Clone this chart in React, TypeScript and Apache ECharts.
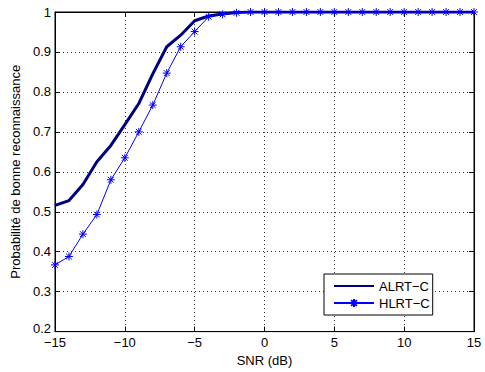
import React, { useEffect, useRef } from "react";
import * as echarts from "echarts";

const snr = [-15, -14, -13, -12, -11, -10, -9, -8, -7, -6, -5, -4, -3, -2, -1, 0, 1, 2, 3, 4, 5, 6, 7, 8, 9, 10, 11, 12, 13, 14, 15];
const alrt = [0.516, 0.528, 0.568, 0.625, 0.666, 0.718, 0.771, 0.845, 0.913, 0.942, 0.978, 0.99, 0.995, 0.999, 1, 1, 1, 1, 1, 1, 1, 1, 1, 1, 1, 1, 1, 1, 1, 1, 1];
const hlrt = [0.367, 0.388, 0.444, 0.493, 0.58, 0.635, 0.7, 0.767, 0.847, 0.913, 0.951, 0.988, 0.994, 0.998, 1, 1, 1, 1, 1, 1, 1, 1, 1, 1, 1, 1, 1, 1, 1, 1, 1];
const seriesNames = ["ALRT\u2212C", "HLRT\u2212C"];
const xLabel = "SNR (dB)";
const yLabel = "Probabilit\u00e9 de bonne reconnaissance";

const font = "'Liberation Sans', Arial, Helvetica, sans-serif";
const star = "path://M0,-5L0,5M-5,0L5,0M-3.6,-3.6L3.6,3.6M-3.6,3.6L3.6,-3.6";
const FS = 13;

export default function App() {
  const ref = useRef<HTMLDivElement>(null);
  useEffect(() => {
    if (!ref.current) return;
    const chart = echarts.init(ref.current, undefined, { renderer: "svg" });
    const minus = (v: number) => String(v).replace("-", "\u2212");
    const grid = { color: "#000", type: [1, 3] as any, width: 1, opacity: 0.8 };
    const sideAxis = {
      axisLine: { show: true, onZero: false, lineStyle: { color: "#000", width: 1 } },
      axisTick: { show: true, inside: true, length: 5, lineStyle: { color: "#000" } },
      axisLabel: { show: false },
      splitLine: { show: false },
    };
    chart.setOption({
      animation: false,
      backgroundColor: "#fff",
      textStyle: { fontFamily: font },
      grid: { left: 55, right: 11, top: 12, bottom: 33, show: true, borderColor: "#000", borderWidth: 1 },
      legend: {
        orient: "vertical",
        left: 324,
        top: 274,
        padding: [5, 3, 5, 9],
        itemGap: 3,
        itemWidth: 40,
        itemHeight: 10,
        backgroundColor: "#fff",
        borderColor: "#000",
        borderWidth: 1,
        textStyle: { fontFamily: font, fontSize: FS, lineHeight: 14, color: "#000" },
        data: [
          { name: seriesNames[0], itemStyle: { opacity: 0 } },
          { name: seriesNames[1] },
        ],
      },
      xAxis: [
        {
          type: "value",
          min: -15,
          max: 15,
          interval: 5,
          name: xLabel,
          nameLocation: "middle",
          nameGap: 15,
          nameTextStyle: { fontFamily: font, fontSize: FS, color: "#000" },
          axisLine: { show: true, onZero: false, lineStyle: { color: "#000", width: 1 } },
          axisTick: { show: true, inside: true, length: 5, lineStyle: { color: "#000" } },
          axisLabel: { color: "#000", fontSize: FS, lineHeight: 12, fontFamily: font, margin: 5, formatter: minus },
          splitLine: { show: true, lineStyle: grid },
        },
        { type: "value", position: "top", min: -15, max: 15, interval: 5, ...sideAxis },
      ],
      yAxis: [
        {
          type: "value",
          min: 0.2,
          max: 1,
          interval: 0.1,
          name: yLabel,
          nameLocation: "middle",
          nameGap: 28,
          nameTextStyle: { fontFamily: font, fontSize: FS, color: "#000" },
          axisLine: { show: true, onZero: false, lineStyle: { color: "#000", width: 1 } },
          axisTick: { show: true, inside: true, length: 5, lineStyle: { color: "#000" } },
          axisLabel: {
            color: "#000",
            fontSize: FS,
            lineHeight: 12,
            fontFamily: font,
            margin: 4,
            formatter: (v: number) => {
              const s = String(Math.round(v * 10) / 10);
              return Math.abs(v - 0.2) < 1e-9 ? "{lo|" + s + "}" : s;
            },
            rich: {
              lo: { fontSize: FS, fontFamily: font, color: "#000", lineHeight: 12, padding: [0, 0, 6, 0] },
            },
          },
          splitLine: { show: true, lineStyle: grid },
        },
        { type: "value", position: "right", min: 0.2, max: 1, interval: 0.1, ...sideAxis },
      ],
      series: [
        {
          name: seriesNames[0],
          type: "line",
          data: snr.map((x, i) => [x, alrt[i]]),
          symbol: "none",
          lineStyle: { color: "#00007f", width: 3 },
          itemStyle: { color: "#00007f" },
        },
        {
          name: seriesNames[1],
          type: "line",
          data: snr.map((x, i) => [x, hlrt[i]]),
          symbol: star,
          symbolSize: 8,
          showSymbol: true,
          lineStyle: { color: "#0000ff", width: 1 },
          itemStyle: { color: "none", borderColor: "#0000ff", borderWidth: 1 },
        },
      ],
    });
    return () => chart.dispose();
  }, []);
  return <div ref={ref} style={{ position: "fixed", left: 0, top: 0, width: 485, height: 372 }} />;
}
